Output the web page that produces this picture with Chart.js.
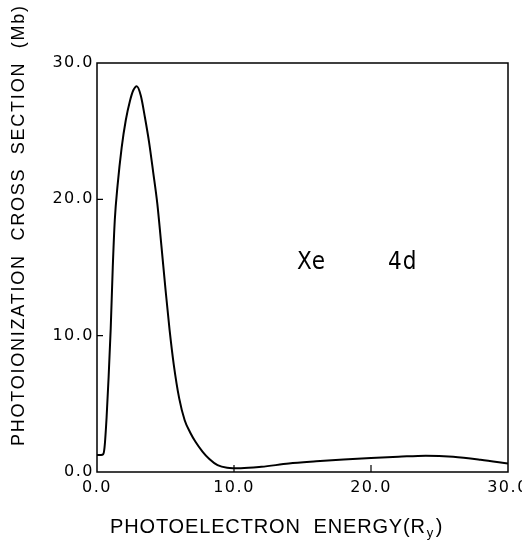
<!DOCTYPE html>
<html>
<head>
<meta charset="utf-8">
<script src="https://cdn.jsdelivr.net/npm/chart.js@4/dist/chart.umd.min.js"></script>
<style>
  html, body { margin: 0; padding: 0; background: #fff; }
  #wrap { width: 522px; height: 547px; position: relative; }
</style>
</head>
<body>
<div id="wrap"><canvas id="xeChart"></canvas></div>
<script>
// Xe 4d photoionization cross section
const energy = [0, 0.3, 0.45, 0.55, 0.7, 0.85, 1.0, 1.15, 1.3, 1.5, 1.8, 2.1, 2.4, 2.65, 2.9,
  3.2, 3.5, 3.8, 4.1, 4.4, 4.7, 5.0, 5.3, 5.6, 6.0, 6.4, 6.8, 7.2, 7.7, 8.2, 8.8, 9.5,
  10.5, 12, 14, 16, 18, 20, 22, 24, 26, 28, 30];
const crossSection = [1.25, 1.25, 1.3, 1.8, 4.0, 7.0, 10.5, 15.0, 18.5, 21.0, 23.8, 25.8, 27.2, 28.0, 28.3,
  27.6, 26.0, 24.2, 22.0, 19.7, 16.6, 13.4, 10.4, 7.9, 5.4, 3.8, 2.9, 2.2, 1.5, 0.95, 0.5, 0.32,
  0.28, 0.38, 0.62, 0.78, 0.92, 1.03, 1.12, 1.2, 1.12, 0.9, 0.62];
const xTicks = [0, 10, 20, 30];
const yTicks = [0, 10, 20, 30];

const yTitle = 'PHOTOIONIZATION  CROSS  SECTION  (Mb)';
const xTitle = 'PHOTOELECTRON  ENERGY(R';

// spread text with letter spacing so it covers a given width
function fitText(ctx, text, width) {
  ctx.letterSpacing = '0px';
  const w = ctx.measureText(text).width;
  const sp = Math.max(0, (width - w) / (text.length - 1));
  ctx.letterSpacing = sp + 'px';
  return sp;
}

const framePlugin = {
  id: 'frame',
  beforeDraw(chart) {
    // wide spacing for the tick numbers
    chart.ctx.letterSpacing = '1.5px';
  },
  afterDraw(chart) {
    const { ctx, chartArea: a, scales } = chart;
    ctx.letterSpacing = '0px';
    ctx.save();
    ctx.strokeStyle = '#000';
    ctx.lineWidth = 1.5;
    ctx.strokeRect(a.left, a.top, a.right - a.left, a.bottom - a.top);

    // inward tick marks
    ctx.lineWidth = 1.2;
    ctx.beginPath();
    yTicks.slice(1, -1).forEach(v => {
      const y = scales.y.getPixelForValue(v);
      ctx.moveTo(a.left, y);
      ctx.lineTo(a.left + 6, y);
    });
    xTicks.slice(1, -1).forEach(v => {
      const x = scales.x.getPixelForValue(v);
      ctx.moveTo(x, a.bottom);
      ctx.lineTo(x, a.bottom - 7);
    });
    ctx.stroke();

    ctx.fillStyle = '#000';

    // y axis title
    ctx.save();
    ctx.translate(24, 226);
    ctx.rotate(-Math.PI / 2);
    ctx.font = '18px "Liberation Sans", Arial, sans-serif';
    ctx.textBaseline = 'alphabetic';
    ctx.textAlign = 'left';
    fitText(ctx, yTitle, 440);
    ctx.fillText(yTitle, -220, 0);
    ctx.restore();

    // x axis title with subscript
    ctx.font = '20px "Liberation Sans", Arial, sans-serif';
    ctx.textBaseline = 'alphabetic';
    ctx.textAlign = 'left';
    const sp = fitText(ctx, xTitle, 315);
    ctx.fillText(xTitle, 110, 533);
    const end = 110 + ctx.measureText(xTitle).width + sp;
    ctx.font = '13px "Liberation Sans", Arial, sans-serif';
    ctx.letterSpacing = '0px';
    ctx.fillText('y', end, 537);
    ctx.font = '20px "Liberation Sans", Arial, sans-serif';
    ctx.fillText(')', end + 9, 533);

    // annotation
    ctx.font = '24px "Liberation Sans Narrow", "DejaVu Sans Condensed", sans-serif';
    ctx.letterSpacing = '1px';
    ctx.fillText('Xe', 297, 269);
    ctx.fillText('4d', 388, 269);
    ctx.restore();
  }
};

const tickFont = { family: '"DejaVu Sans", sans-serif', size: 16 };

new Chart(document.getElementById('xeChart'), {
  type: 'line',
  data: {
    datasets: [{
      data: energy.map((e, i) => ({ x: e, y: crossSection[i] })),
      borderColor: '#000',
      borderWidth: 2,
      pointRadius: 0,
      fill: false,
      cubicInterpolationMode: 'monotone'
    }]
  },
  options: {
    responsive: true,
    maintainAspectRatio: false,
    animation: false,
    layout: { padding: { left: 0, top: 63, right: 14, bottom: 0 } },
    plugins: { legend: { display: false }, tooltip: { enabled: false } },
    scales: {
      x: {
        type: 'linear',
        min: 0,
        max: 30,
        afterBuildTicks: s => { s.ticks = xTicks.map(v => ({ value: v })); },
        afterFit: s => { s.height = 75; s.paddingLeft = 0; s.paddingRight = 0; },
        grid: { display: false, drawTicks: false },
        border: { display: false },
        ticks: {
          color: '#000',
          font: tickFont,
          padding: 6,
          maxRotation: 0,
          callback: v => v.toFixed(1)
        }
      },
      y: {
        type: 'linear',
        min: 0,
        max: 30,
        afterBuildTicks: s => { s.ticks = yTicks.map(v => ({ value: v })); },
        afterFit: s => { s.width = 97; s.paddingTop = 0; s.paddingBottom = 0; },
        grid: { display: false, drawTicks: false },
        border: { display: false },
        ticks: {
          color: '#000',
          font: tickFont,
          padding: 3,
          callback: v => v.toFixed(1)
        }
      }
    }
  },
  plugins: [framePlugin]
});
</script>
</body>
</html>
